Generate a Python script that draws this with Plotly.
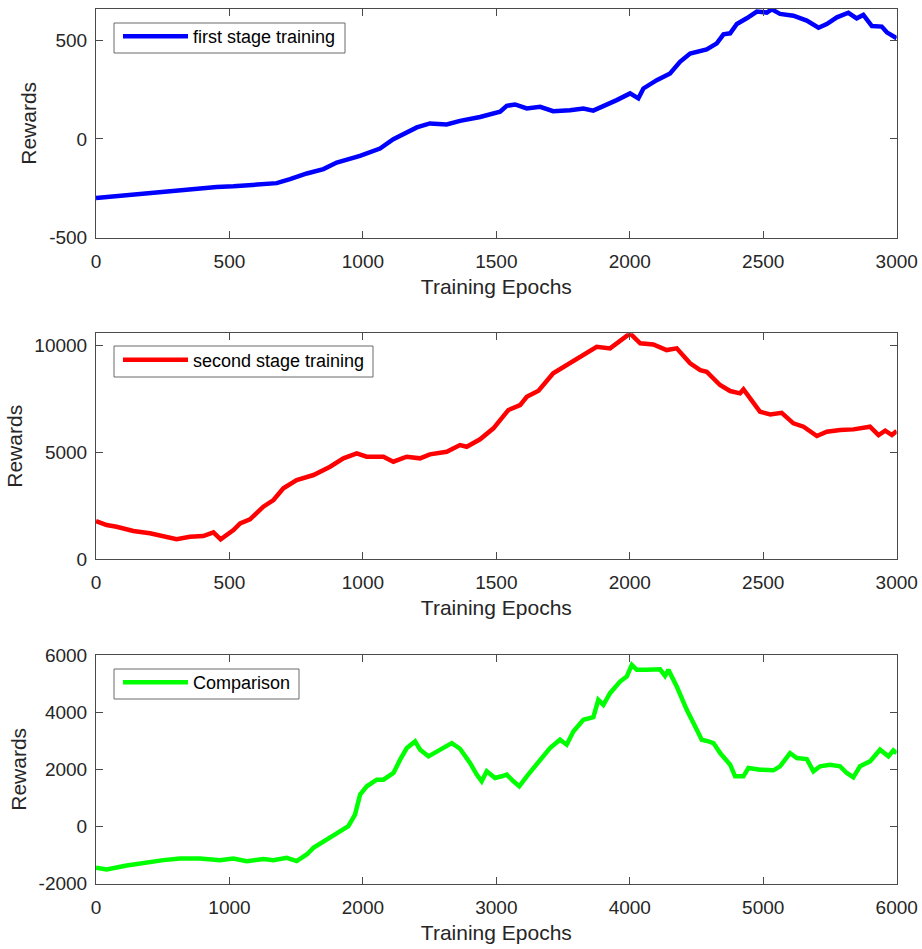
import plotly.graph_objects as go

# ---------------- data ----------------
x1 = [0, 140, 265, 390, 452, 515, 615, 677, 727, 790, 852, 902, 989, 1064, 1114, 1202, 1251, 1314, 1364,
      1439, 1514, 1539, 1570, 1614, 1664, 1713, 1776, 1826, 1863, 1901, 1951, 2001, 2032, 2051, 2101,
      2151, 2188, 2226, 2288, 2326, 2351, 2376, 2401, 2438, 2476, 2513, 2532, 2563, 2613, 2663, 2707,
      2738, 2776, 2819, 2850, 2875, 2907, 2944, 2963, 3000]
y1 = [-299, -280, -263, -248, -243, -240, -233, -224, -204, -175, -153, -120, -86, -49, -2, 58, 78, 73, 91,
      111, 137, 167, 174, 154, 162, 140, 145, 154, 143, 165, 196, 230, 205, 255, 297,
      331, 390, 432, 453, 483, 529, 534, 581, 610, 644, 639, 655, 632, 623, 598, 562,
      581, 615, 638, 610, 627, 571, 568, 539, 509]

x2 = [0, 40, 77, 140, 202, 252, 302, 352, 402, 440, 467, 515, 540, 577, 627, 665, 702, 752, 815, 877,
      927, 977, 1014, 1077, 1114, 1164, 1214, 1251, 1314, 1364, 1389, 1439, 1489, 1545, 1589, 1614,
      1658, 1713, 1763, 1826, 1876, 1926, 1976, 2001, 2039, 2088, 2138, 2176, 2226, 2264, 2288, 2338,
      2376, 2413, 2426, 2488, 2526, 2569, 2613, 2651, 2701, 2738, 2788, 2838, 2900, 2932, 2957, 2982, 3000]
y2 = [1792, 1605, 1526, 1324, 1217, 1058, 936, 1058, 1090, 1263, 936, 1371, 1685, 1872, 2462, 2775, 3322,
      3711, 3945, 4334, 4727, 4961, 4802, 4802, 4568, 4802, 4727, 4914, 5036, 5349, 5270, 5616, 6131,
      6987, 7221, 7610, 7890, 8705, 9093, 9561, 9950, 9875, 10343, 10577, 10109, 10060, 9795, 9875,
      9173, 8859, 8780, 8157, 7876, 7769, 7953, 6908, 6783, 6860, 6365, 6208, 5770, 5973, 6051, 6082,
      6208, 5817, 6020, 5817, 6005]

x3 = [0, 80, 230, 380, 505, 630, 779, 929, 1029, 1129, 1254, 1329, 1429, 1504, 1579, 1629, 1729, 1779,
      1829, 1891, 1941, 1979, 2029, 2104, 2154, 2229, 2279, 2329, 2391, 2429, 2491, 2553, 2603, 2666,
      2728, 2803, 2853, 2890, 2928, 2990, 3040, 3078, 3128, 3172, 3228, 3303, 3402, 3477, 3527, 3577,
      3652, 3727, 3764, 3802, 3852, 3927, 3977, 4015, 4052, 4127, 4227, 4264, 4289, 4352, 4427, 4502,
      4539, 4589, 4627, 4677, 4752, 4789, 4851, 4889, 4977, 5076, 5126, 5201, 5251, 5326, 5376, 5426,
      5501, 5576, 5626, 5675, 5725, 5800, 5875, 5938, 5975, 6000]
y3 = [-1443, -1500, -1361, -1245, -1175, -1117, -1117, -1175, -1117, -1210, -1140, -1175, -1094, -1210,
      -978, -745, -454, -338, -198, 12, 419, 1117, 1407, 1640, 1640, 1873, 2338, 2745, 2978, 2687,
      2455, 2629, 2745, 2920, 2720, 2222, 1815, 1582, 1931, 1698, 1757, 1815, 1582, 1407, 1757, 2164,
      2745, 3036, 2862, 3326, 3734, 3827, 4432, 4258, 4665, 5072, 5247, 5654, 5480, 5480, 5500, 5270,
      5480, 4897, 4083, 3385, 3036, 2978, 2920, 2571, 2164, 1757, 1757, 2048, 1990, 1966, 2106, 2571,
      2397, 2362, 1931, 2106, 2164, 2106, 1873, 1721, 2106, 2280, 2687, 2455, 2664, 2571]

names = ["first stage training", "second stage training", "Comparison"]

xtick_a = [0, 500, 1000, 1500, 2000, 2500, 3000]
xtick_b = [0, 1000, 2000, 3000, 4000, 5000, 6000]
ytick1 = [-500, 0, 500]
ytick2 = [0, 5000, 10000]
ytick3 = [-2000, 0, 2000, 4000, 6000]

def lab(v):
    return [str(t) for t in v]

# ---------------- figure ----------------
W, H = 922, 949
AX = "#4a4a4a"
TXT = "#262626"
FONT = "Liberation Sans, Arial, sans-serif"

fig = go.Figure()
fig.add_trace(go.Scatter(x=x1, y=y1, mode="lines", name=names[0],
                         line=dict(color="#0000ff", width=4.5), xaxis="x", yaxis="y", legend="legend"))
fig.add_trace(go.Scatter(x=x2, y=y2, mode="lines", name=names[1],
                         line=dict(color="#ff0000", width=4.5), xaxis="x2", yaxis="y2", legend="legend2"))
fig.add_trace(go.Scatter(x=x3, y=y3, mode="lines", name=names[2],
                         line=dict(color="#00ff00", width=4.5), xaxis="x3", yaxis="y3", legend="legend3"))

xd = [96 / W, 896.7 / W]
ydoms = [[1 - 237.7 / H, 1 - 9 / H], [1 - 559.3 / H, 1 - 333.3 / H], [1 - 883.7 / H, 1 - 655 / H]]

def xaxis(dom_y_anchor, ticks, rng):
    return dict(domain=xd, anchor=dom_y_anchor, range=rng, tickvals=ticks, ticktext=lab(ticks),
                showline=True, linecolor=AX, linewidth=1, mirror="ticks", ticks="inside",
                ticklen=7, tickcolor=AX, showgrid=False, zeroline=False,
                tickfont=dict(size=19, color=TXT, family=FONT),
                ticklabelstandoff=6,
                title=dict(text="Training Epochs", font=dict(size=21, color=TXT, family=FONT), standoff=8))

def yaxis(dom, anchor, ticks, rng):
    return dict(domain=dom, anchor=anchor, range=rng, tickvals=ticks, ticktext=lab(ticks),
                showline=True, linecolor=AX, linewidth=1, mirror="ticks", ticks="inside",
                ticklen=7, tickcolor=AX, showgrid=False, zeroline=False,
                tickfont=dict(size=19, color=TXT, family=FONT),
                ticklabelstandoff=4,
                title=dict(text="Rewards", font=dict(size=21, color=TXT, family=FONT), standoff=6))

# legend boxes (pixel geometry): left, right, top, bottom
boxes = [(114, 345, 23, 53), (114, 373, 346, 377), (114, 299, 669, 699)]

def legend(box):
    cy = (box[2] + box[3]) / 2
    return dict(x=118 / W, y=1 - (cy - 20) / H, xanchor="left", yanchor="top",
                bgcolor="rgba(0,0,0,0)", borderwidth=0,
                font=dict(size=18, color="#000000", family=FONT),
                itemwidth=65, tracegroupgap=0)

shapes = [dict(type="rect", xref="paper", yref="paper", layer="above",
               x0=b[0] / W, x1=b[1] / W, y0=1 - b[3] / H, y1=1 - b[2] / H,
               line=dict(color="#6a6a6a", width=1), fillcolor="white") for b in boxes]

fig.update_layout(
    width=W, height=H, margin=dict(l=0, r=0, t=0, b=0, autoexpand=False),
    paper_bgcolor="white", plot_bgcolor="white",
    font=dict(family=FONT, color=TXT),
    showlegend=True,
    xaxis=xaxis("y", xtick_a, [0, 3000]),
    yaxis=yaxis(ydoms[0], "x", ytick1, [-500, 657]),
    xaxis2=xaxis("y2", xtick_a, [0, 3000]),
    yaxis2=yaxis(ydoms[1], "x2", ytick2, [0, 10580]),
    xaxis3=xaxis("y3", xtick_b, [0, 6000]),
    yaxis3=yaxis(ydoms[2], "x3", ytick3, [-2000, 6000]),
    legend=legend(boxes[0]),
    legend2=legend(boxes[1]),
    legend3=legend(boxes[2]),
    shapes=shapes,
)
for ax in ["xaxis", "yaxis", "xaxis2", "yaxis2", "xaxis3", "yaxis3"]:
    fig.layout[ax].automargin = False

fig.write_html("out.html")
